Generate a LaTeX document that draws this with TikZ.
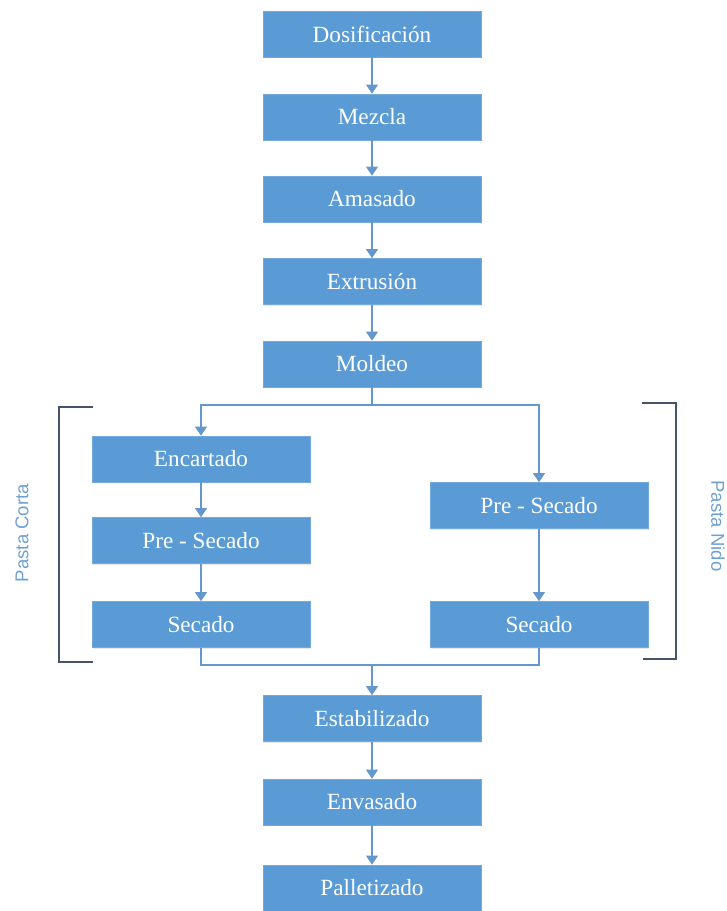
\documentclass[tikz,border=0pt]{standalone}
\usepackage{fontspec}
\setmainfont{Liberation Serif}
\setsansfont{Liberation Sans}
\usepackage{tikz}
\usetikzlibrary{arrows.meta,calc,positioning,shadows}
\definecolor{boxblue}{RGB}{91,155,213}
\definecolor{linkblue}{RGB}{100,152,204}
\definecolor{brackgray}{RGB}{68,84,106}
\definecolor{labelblue}{RGB}{110,160,210}

\begin{document}
\begin{tikzpicture}[x=0.025cm,y=-0.025cm,
  paso/.style={draw=boxblue!85!white,fill=boxblue,text=white,minimum width=5.45cm,minimum height=1.15cm,inner sep=0pt,font=\fontsize{16.5}{19}\selectfont,drop shadow={opacity=0.18,shadow xshift=0.6pt,shadow yshift=-0.8pt}},
  flecha/.style={draw=linkblue,line width=1pt,-{Triangle[width=8.5pt,length=6.5pt]}},
  linea/.style={draw=linkblue,line width=1pt},
  llave/.style={draw=brackgray,line width=0.9pt},
  rotulo/.style={text=labelblue,font=\sffamily\fontsize{13.2}{15}\selectfont}]
\useasboundingbox (0,0) rectangle (727,911);
% columna principal
\node[paso] (dosif) at (372,34) {Dosificación};
\node[paso] (mezcla) at (372,117) {Mezcla};
\node[paso] (amasado) at (372,199) {Amasado};
\node[paso] (extrusion) at (372,281.5) {Extrusión};
\node[paso] (moldeo) at (372,364) {Moldeo};
% pasta corta
\node[paso] (encartado) at (201,459) {Encartado};
\node[paso] (presecL) at (201,540.5) {Pre - Secado};
\node[paso] (secadoL) at (201,624.5) {Secado};
% pasta nido
\node[paso] (presecR) at (539,505.5) {Pre - Secado};
\node[paso] (secadoR) at (539,624.5) {Secado};
% final
\node[paso] (estab) at (372,718.5) {Estabilizado};
\node[paso] (envasado) at (372,802) {Envasado};
\node[paso] (pallet) at (372,888) {Palletizado};
\coordinate (split) at (372,405);
\coordinate (join) at (372,665);
\draw[flecha] (dosif) -- (mezcla);
\draw[flecha] (mezcla) -- (amasado);
\draw[flecha] (amasado) -- (extrusion);
\draw[flecha] (extrusion) -- (moldeo);
\draw[linea] (moldeo) -- (split);
\draw[flecha] (split) -| (encartado);
\draw[flecha] (split) -| (presecR);
\draw[flecha] (encartado) -- (presecL);
\draw[flecha] (presecL) -- (secadoL);
\draw[flecha] (presecR) -- (secadoR);
\draw[linea] (secadoL) |- (join);
\draw[linea] (secadoR) |- (join);
\draw[flecha] (join) -- (estab);
\draw[flecha] (estab) -- (envasado);
\draw[flecha] (envasado) -- (pallet);
% corchetes
\draw[llave] (93,407) -- (59,407) -- (59,662) -- (93,662);
\draw[llave] (642,403) -- (676,403) -- (676,659) -- (643,659);
\node[rotulo,rotate=90] (corta) at (22,533) {Pasta Corta};
\node[rotulo,rotate=-90] (nido) at (718,526) {Pasta Nido};
\end{tikzpicture}
\end{document}
